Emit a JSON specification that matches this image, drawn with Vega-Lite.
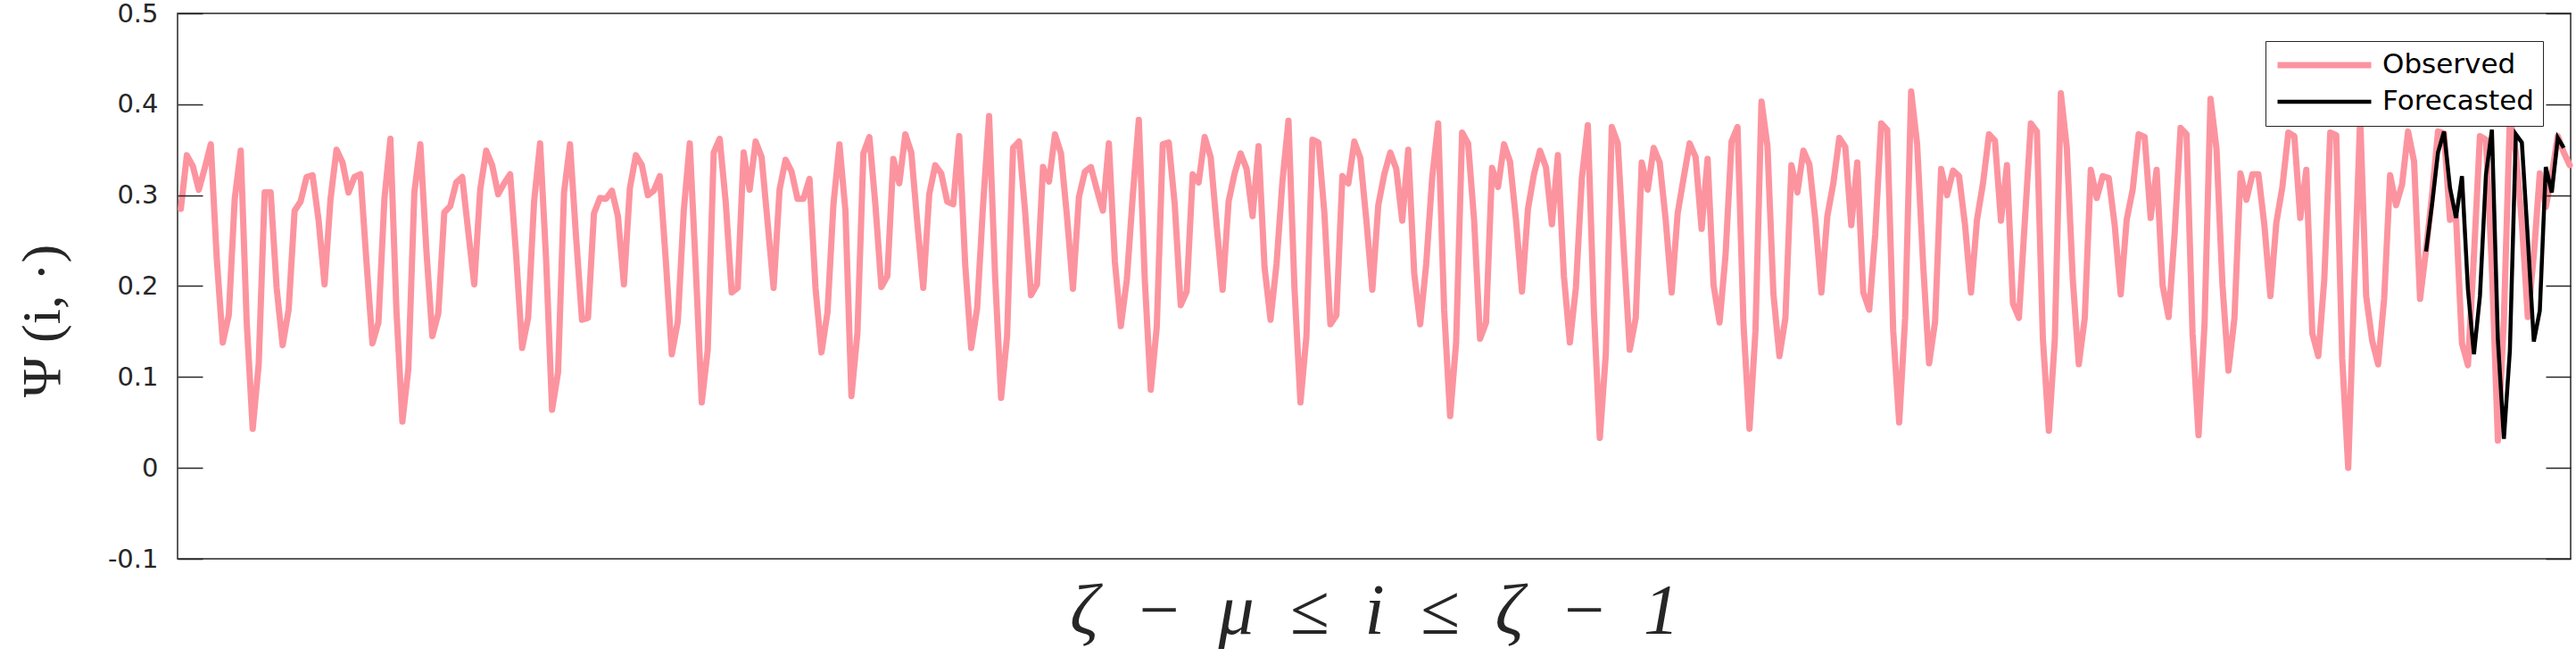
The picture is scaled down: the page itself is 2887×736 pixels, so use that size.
{
"$schema": "https://vega.github.io/schema/vega-lite/v6.json",
"width": 2682, "height": 611,
"autosize": {"type": "none"},
"padding": {"left": 199, "top": 15, "right": 6, "bottom": 110},
"background": "white",
"config": {"view": {"stroke": "#262626", "strokeWidth": 1.5}, "axis": {"domain": false, "grid": false}},
"datasets": {
"obs": [
{"i":0,"v":0.285,"s":"Observed"},{"i":1,"v":0.344,"s":"Observed"},{"i":2,"v":0.332,"s":"Observed"},{"i":3,"v":0.306,"s":"Observed"},{"i":4,"v":0.33,"s":"Observed"},{"i":5,"v":0.356,"s":"Observed"},{"i":6,"v":0.23,"s":"Observed"},{"i":7,"v":0.138,"s":"Observed"},{"i":8,"v":0.168,"s":"Observed"},{"i":9,"v":0.296,"s":"Observed"},
{"i":10,"v":0.349,"s":"Observed"},{"i":11,"v":0.16,"s":"Observed"},{"i":12,"v":0.043,"s":"Observed"},{"i":13,"v":0.114,"s":"Observed"},{"i":14,"v":0.303,"s":"Observed"},{"i":15,"v":0.303,"s":"Observed"},{"i":16,"v":0.198,"s":"Observed"},{"i":17,"v":0.135,"s":"Observed"},{"i":18,"v":0.174,"s":"Observed"},{"i":19,"v":0.283,"s":"Observed"},
{"i":20,"v":0.293,"s":"Observed"},{"i":21,"v":0.32,"s":"Observed"},{"i":22,"v":0.322,"s":"Observed"},{"i":23,"v":0.273,"s":"Observed"},{"i":24,"v":0.202,"s":"Observed"},{"i":25,"v":0.296,"s":"Observed"},{"i":26,"v":0.35,"s":"Observed"},{"i":27,"v":0.336,"s":"Observed"},{"i":28,"v":0.303,"s":"Observed"},{"i":29,"v":0.32,"s":"Observed"},
{"i":30,"v":0.323,"s":"Observed"},{"i":31,"v":0.227,"s":"Observed"},{"i":32,"v":0.137,"s":"Observed"},{"i":33,"v":0.16,"s":"Observed"},{"i":34,"v":0.296,"s":"Observed"},{"i":35,"v":0.362,"s":"Observed"},{"i":36,"v":0.174,"s":"Observed"},{"i":37,"v":0.051,"s":"Observed"},{"i":38,"v":0.109,"s":"Observed"},{"i":39,"v":0.303,"s":"Observed"},
{"i":40,"v":0.356,"s":"Observed"},{"i":41,"v":0.24,"s":"Observed"},{"i":42,"v":0.145,"s":"Observed"},{"i":43,"v":0.17,"s":"Observed"},{"i":44,"v":0.281,"s":"Observed"},{"i":45,"v":0.288,"s":"Observed"},{"i":46,"v":0.314,"s":"Observed"},{"i":47,"v":0.32,"s":"Observed"},{"i":48,"v":0.26,"s":"Observed"},{"i":49,"v":0.202,"s":"Observed"},
{"i":50,"v":0.306,"s":"Observed"},{"i":51,"v":0.349,"s":"Observed"},{"i":52,"v":0.333,"s":"Observed"},{"i":53,"v":0.301,"s":"Observed"},{"i":54,"v":0.313,"s":"Observed"},{"i":55,"v":0.323,"s":"Observed"},{"i":56,"v":0.234,"s":"Observed"},{"i":57,"v":0.132,"s":"Observed"},{"i":58,"v":0.165,"s":"Observed"},{"i":59,"v":0.293,"s":"Observed"},
{"i":60,"v":0.357,"s":"Observed"},{"i":61,"v":0.23,"s":"Observed"},{"i":62,"v":0.064,"s":"Observed"},{"i":63,"v":0.105,"s":"Observed"},{"i":64,"v":0.303,"s":"Observed"},{"i":65,"v":0.356,"s":"Observed"},{"i":66,"v":0.255,"s":"Observed"},{"i":67,"v":0.163,"s":"Observed"},{"i":68,"v":0.165,"s":"Observed"},{"i":69,"v":0.28,"s":"Observed"},
{"i":70,"v":0.297,"s":"Observed"},{"i":71,"v":0.296,"s":"Observed"},{"i":72,"v":0.305,"s":"Observed"},{"i":73,"v":0.277,"s":"Observed"},{"i":74,"v":0.202,"s":"Observed"},{"i":75,"v":0.308,"s":"Observed"},{"i":76,"v":0.344,"s":"Observed"},{"i":77,"v":0.333,"s":"Observed"},{"i":78,"v":0.30,"s":"Observed"},{"i":79,"v":0.305,"s":"Observed"},
{"i":80,"v":0.321,"s":"Observed"},{"i":81,"v":0.228,"s":"Observed"},{"i":82,"v":0.125,"s":"Observed"},{"i":83,"v":0.161,"s":"Observed"},{"i":84,"v":0.283,"s":"Observed"},{"i":85,"v":0.357,"s":"Observed"},{"i":86,"v":0.22,"s":"Observed"},{"i":87,"v":0.072,"s":"Observed"},{"i":88,"v":0.13,"s":"Observed"},{"i":89,"v":0.347,"s":"Observed"},
{"i":90,"v":0.362,"s":"Observed"},{"i":91,"v":0.293,"s":"Observed"},{"i":92,"v":0.193,"s":"Observed"},{"i":93,"v":0.198,"s":"Observed"},{"i":94,"v":0.347,"s":"Observed"},{"i":95,"v":0.306,"s":"Observed"},{"i":96,"v":0.359,"s":"Observed"},{"i":97,"v":0.342,"s":"Observed"},{"i":98,"v":0.27,"s":"Observed"},{"i":99,"v":0.198,"s":"Observed"},
{"i":100,"v":0.306,"s":"Observed"},{"i":101,"v":0.339,"s":"Observed"},{"i":102,"v":0.326,"s":"Observed"},{"i":103,"v":0.296,"s":"Observed"},{"i":104,"v":0.296,"s":"Observed"},{"i":105,"v":0.318,"s":"Observed"},{"i":106,"v":0.198,"s":"Observed"},{"i":107,"v":0.127,"s":"Observed"},{"i":108,"v":0.171,"s":"Observed"},{"i":109,"v":0.29,"s":"Observed"},
{"i":110,"v":0.356,"s":"Observed"},{"i":111,"v":0.283,"s":"Observed"},{"i":112,"v":0.079,"s":"Observed"},{"i":113,"v":0.148,"s":"Observed"},{"i":114,"v":0.346,"s":"Observed"},{"i":115,"v":0.364,"s":"Observed"},{"i":116,"v":0.29,"s":"Observed"},{"i":117,"v":0.199,"s":"Observed"},{"i":118,"v":0.211,"s":"Observed"},{"i":119,"v":0.34,"s":"Observed"},
{"i":120,"v":0.313,"s":"Observed"},{"i":121,"v":0.367,"s":"Observed"},{"i":122,"v":0.347,"s":"Observed"},{"i":123,"v":0.27,"s":"Observed"},{"i":124,"v":0.198,"s":"Observed"},{"i":125,"v":0.301,"s":"Observed"},{"i":126,"v":0.333,"s":"Observed"},{"i":127,"v":0.324,"s":"Observed"},{"i":128,"v":0.293,"s":"Observed"},{"i":129,"v":0.29,"s":"Observed"},
{"i":130,"v":0.365,"s":"Observed"},{"i":131,"v":0.224,"s":"Observed"},{"i":132,"v":0.132,"s":"Observed"},{"i":133,"v":0.176,"s":"Observed"},{"i":134,"v":0.29,"s":"Observed"},{"i":135,"v":0.387,"s":"Observed"},{"i":136,"v":0.211,"s":"Observed"},{"i":137,"v":0.077,"s":"Observed"},{"i":138,"v":0.145,"s":"Observed"},{"i":139,"v":0.352,"s":"Observed"},
{"i":140,"v":0.359,"s":"Observed"},{"i":141,"v":0.283,"s":"Observed"},{"i":142,"v":0.19,"s":"Observed"},{"i":143,"v":0.202,"s":"Observed"},{"i":144,"v":0.331,"s":"Observed"},{"i":145,"v":0.315,"s":"Observed"},{"i":146,"v":0.367,"s":"Observed"},{"i":147,"v":0.346,"s":"Observed"},{"i":148,"v":0.277,"s":"Observed"},{"i":149,"v":0.197,"s":"Observed"},
{"i":150,"v":0.298,"s":"Observed"},{"i":151,"v":0.326,"s":"Observed"},{"i":152,"v":0.331,"s":"Observed"},{"i":153,"v":0.306,"s":"Observed"},{"i":154,"v":0.283,"s":"Observed"},{"i":155,"v":0.357,"s":"Observed"},{"i":156,"v":0.227,"s":"Observed"},{"i":157,"v":0.156,"s":"Observed"},{"i":158,"v":0.207,"s":"Observed"},{"i":159,"v":0.3,"s":"Observed"},
{"i":160,"v":0.383,"s":"Observed"},{"i":161,"v":0.207,"s":"Observed"},{"i":162,"v":0.086,"s":"Observed"},{"i":163,"v":0.155,"s":"Observed"},{"i":164,"v":0.356,"s":"Observed"},{"i":165,"v":0.358,"s":"Observed"},{"i":166,"v":0.29,"s":"Observed"},{"i":167,"v":0.179,"s":"Observed"},{"i":168,"v":0.194,"s":"Observed"},{"i":169,"v":0.323,"s":"Observed"},
{"i":170,"v":0.314,"s":"Observed"},{"i":171,"v":0.364,"s":"Observed"},{"i":172,"v":0.342,"s":"Observed"},{"i":173,"v":0.267,"s":"Observed"},{"i":174,"v":0.196,"s":"Observed"},{"i":175,"v":0.293,"s":"Observed"},{"i":176,"v":0.324,"s":"Observed"},{"i":177,"v":0.346,"s":"Observed"},{"i":178,"v":0.329,"s":"Observed"},{"i":179,"v":0.277,"s":"Observed"},
{"i":180,"v":0.354,"s":"Observed"},{"i":181,"v":0.221,"s":"Observed"},{"i":182,"v":0.163,"s":"Observed"},{"i":183,"v":0.224,"s":"Observed"},{"i":184,"v":0.316,"s":"Observed"},{"i":185,"v":0.382,"s":"Observed"},{"i":186,"v":0.198,"s":"Observed"},{"i":187,"v":0.072,"s":"Observed"},{"i":188,"v":0.145,"s":"Observed"},{"i":189,"v":0.361,"s":"Observed"},
{"i":190,"v":0.358,"s":"Observed"},{"i":191,"v":0.28,"s":"Observed"},{"i":192,"v":0.158,"s":"Observed"},{"i":193,"v":0.168,"s":"Observed"},{"i":194,"v":0.321,"s":"Observed"},{"i":195,"v":0.313,"s":"Observed"},{"i":196,"v":0.359,"s":"Observed"},{"i":197,"v":0.341,"s":"Observed"},{"i":198,"v":0.273,"s":"Observed"},{"i":199,"v":0.196,"s":"Observed"},
{"i":200,"v":0.289,"s":"Observed"},{"i":201,"v":0.323,"s":"Observed"},{"i":202,"v":0.347,"s":"Observed"},{"i":203,"v":0.329,"s":"Observed"},{"i":204,"v":0.272,"s":"Observed"},{"i":205,"v":0.35,"s":"Observed"},{"i":206,"v":0.214,"s":"Observed"},{"i":207,"v":0.158,"s":"Observed"},{"i":208,"v":0.224,"s":"Observed"},{"i":209,"v":0.319,"s":"Observed"},
{"i":210,"v":0.379,"s":"Observed"},{"i":211,"v":0.174,"s":"Observed"},{"i":212,"v":0.057,"s":"Observed"},{"i":213,"v":0.138,"s":"Observed"},{"i":214,"v":0.369,"s":"Observed"},{"i":215,"v":0.357,"s":"Observed"},{"i":216,"v":0.273,"s":"Observed"},{"i":217,"v":0.142,"s":"Observed"},{"i":218,"v":0.16,"s":"Observed"},{"i":219,"v":0.33,"s":"Observed"},
{"i":220,"v":0.309,"s":"Observed"},{"i":221,"v":0.356,"s":"Observed"},{"i":222,"v":0.337,"s":"Observed"},{"i":223,"v":0.273,"s":"Observed"},{"i":224,"v":0.194,"s":"Observed"},{"i":225,"v":0.285,"s":"Observed"},{"i":226,"v":0.323,"s":"Observed"},{"i":227,"v":0.349,"s":"Observed"},{"i":228,"v":0.331,"s":"Observed"},{"i":229,"v":0.268,"s":"Observed"},
{"i":230,"v":0.344,"s":"Observed"},{"i":231,"v":0.211,"s":"Observed"},{"i":232,"v":0.138,"s":"Observed"},{"i":233,"v":0.198,"s":"Observed"},{"i":234,"v":0.319,"s":"Observed"},{"i":235,"v":0.377,"s":"Observed"},{"i":236,"v":0.174,"s":"Observed"},{"i":237,"v":0.033,"s":"Observed"},{"i":238,"v":0.125,"s":"Observed"},{"i":239,"v":0.375,"s":"Observed"},
{"i":240,"v":0.357,"s":"Observed"},{"i":241,"v":0.24,"s":"Observed"},{"i":242,"v":0.13,"s":"Observed"},{"i":243,"v":0.165,"s":"Observed"},{"i":244,"v":0.336,"s":"Observed"},{"i":245,"v":0.306,"s":"Observed"},{"i":246,"v":0.352,"s":"Observed"},{"i":247,"v":0.336,"s":"Observed"},{"i":248,"v":0.273,"s":"Observed"},{"i":249,"v":0.193,"s":"Observed"},
{"i":250,"v":0.28,"s":"Observed"},{"i":251,"v":0.319,"s":"Observed"},{"i":252,"v":0.357,"s":"Observed"},{"i":253,"v":0.342,"s":"Observed"},{"i":254,"v":0.263,"s":"Observed"},{"i":255,"v":0.34,"s":"Observed"},{"i":256,"v":0.201,"s":"Observed"},{"i":257,"v":0.16,"s":"Observed"},{"i":258,"v":0.234,"s":"Observed"},{"i":259,"v":0.359,"s":"Observed"},
{"i":260,"v":0.375,"s":"Observed"},{"i":261,"v":0.158,"s":"Observed"},{"i":262,"v":0.043,"s":"Observed"},{"i":263,"v":0.151,"s":"Observed"},{"i":264,"v":0.403,"s":"Observed"},{"i":265,"v":0.354,"s":"Observed"},{"i":266,"v":0.191,"s":"Observed"},{"i":267,"v":0.123,"s":"Observed"},{"i":268,"v":0.165,"s":"Observed"},{"i":269,"v":0.333,"s":"Observed"},
{"i":270,"v":0.303,"s":"Observed"},{"i":271,"v":0.349,"s":"Observed"},{"i":272,"v":0.334,"s":"Observed"},{"i":273,"v":0.273,"s":"Observed"},{"i":274,"v":0.193,"s":"Observed"},{"i":275,"v":0.277,"s":"Observed"},{"i":276,"v":0.313,"s":"Observed"},{"i":277,"v":0.363,"s":"Observed"},{"i":278,"v":0.353,"s":"Observed"},{"i":279,"v":0.267,"s":"Observed"},
{"i":280,"v":0.336,"s":"Observed"},{"i":281,"v":0.193,"s":"Observed"},{"i":282,"v":0.174,"s":"Observed"},{"i":283,"v":0.257,"s":"Observed"},{"i":284,"v":0.379,"s":"Observed"},{"i":285,"v":0.372,"s":"Observed"},{"i":286,"v":0.151,"s":"Observed"},{"i":287,"v":0.05,"s":"Observed"},{"i":288,"v":0.165,"s":"Observed"},{"i":289,"v":0.414,"s":"Observed"},
{"i":290,"v":0.356,"s":"Observed"},{"i":291,"v":0.224,"s":"Observed"},{"i":292,"v":0.115,"s":"Observed"},{"i":293,"v":0.161,"s":"Observed"},{"i":294,"v":0.329,"s":"Observed"},{"i":295,"v":0.3,"s":"Observed"},{"i":296,"v":0.327,"s":"Observed"},{"i":297,"v":0.321,"s":"Observed"},{"i":298,"v":0.267,"s":"Observed"},{"i":299,"v":0.193,"s":"Observed"},
{"i":300,"v":0.273,"s":"Observed"},{"i":301,"v":0.313,"s":"Observed"},{"i":302,"v":0.367,"s":"Observed"},{"i":303,"v":0.36,"s":"Observed"},{"i":304,"v":0.272,"s":"Observed"},{"i":305,"v":0.333,"s":"Observed"},{"i":306,"v":0.181,"s":"Observed"},{"i":307,"v":0.165,"s":"Observed"},{"i":308,"v":0.273,"s":"Observed"},{"i":309,"v":0.379,"s":"Observed"},
{"i":310,"v":0.37,"s":"Observed"},{"i":311,"v":0.142,"s":"Observed"},{"i":312,"v":0.041,"s":"Observed"},{"i":313,"v":0.142,"s":"Observed"},{"i":314,"v":0.412,"s":"Observed"},{"i":315,"v":0.352,"s":"Observed"},{"i":316,"v":0.207,"s":"Observed"},{"i":317,"v":0.114,"s":"Observed"},{"i":318,"v":0.165,"s":"Observed"},{"i":319,"v":0.328,"s":"Observed"},
{"i":320,"v":0.297,"s":"Observed"},{"i":321,"v":0.321,"s":"Observed"},{"i":322,"v":0.319,"s":"Observed"},{"i":323,"v":0.267,"s":"Observed"},{"i":324,"v":0.191,"s":"Observed"},{"i":325,"v":0.273,"s":"Observed"},{"i":326,"v":0.306,"s":"Observed"},{"i":327,"v":0.367,"s":"Observed"},{"i":328,"v":0.364,"s":"Observed"},{"i":329,"v":0.275,"s":"Observed"},
{"i":330,"v":0.328,"s":"Observed"},{"i":331,"v":0.201,"s":"Observed"},{"i":332,"v":0.166,"s":"Observed"},{"i":333,"v":0.257,"s":"Observed"},{"i":334,"v":0.374,"s":"Observed"},{"i":335,"v":0.367,"s":"Observed"},{"i":336,"v":0.148,"s":"Observed"},{"i":337,"v":0.036,"s":"Observed"},{"i":338,"v":0.158,"s":"Observed"},{"i":339,"v":0.406,"s":"Observed"},
{"i":340,"v":0.351,"s":"Observed"},{"i":341,"v":0.201,"s":"Observed"},{"i":342,"v":0.107,"s":"Observed"},{"i":343,"v":0.165,"s":"Observed"},{"i":344,"v":0.324,"s":"Observed"},{"i":345,"v":0.295,"s":"Observed"},{"i":346,"v":0.323,"s":"Observed"},{"i":347,"v":0.323,"s":"Observed"},{"i":348,"v":0.267,"s":"Observed"},{"i":349,"v":0.189,"s":"Observed"},
{"i":350,"v":0.27,"s":"Observed"},{"i":351,"v":0.309,"s":"Observed"},{"i":352,"v":0.369,"s":"Observed"},{"i":353,"v":0.365,"s":"Observed"},{"i":354,"v":0.275,"s":"Observed"},{"i":355,"v":0.328,"s":"Observed"},{"i":356,"v":0.148,"s":"Observed"},{"i":357,"v":0.123,"s":"Observed"},{"i":358,"v":0.207,"s":"Observed"},{"i":359,"v":0.369,"s":"Observed"},
{"i":360,"v":0.366,"s":"Observed"},{"i":361,"v":0.12,"s":"Observed"},{"i":362,"v":0.0,"s":"Observed"},{"i":363,"v":0.2,"s":"Observed"},{"i":364,"v":0.385,"s":"Observed"},{"i":365,"v":0.189,"s":"Observed"},{"i":366,"v":0.14,"s":"Observed"},{"i":367,"v":0.114,"s":"Observed"},{"i":368,"v":0.186,"s":"Observed"},{"i":369,"v":0.322,"s":"Observed"},
{"i":370,"v":0.289,"s":"Observed"},{"i":371,"v":0.312,"s":"Observed"},{"i":372,"v":0.37,"s":"Observed"},{"i":373,"v":0.337,"s":"Observed"},{"i":374,"v":0.186,"s":"Observed"},{"i":375,"v":0.24,"s":"Observed"},{"i":376,"v":0.3,"s":"Observed"},{"i":377,"v":0.37,"s":"Observed"},{"i":378,"v":0.368,"s":"Observed"},{"i":379,"v":0.273,"s":"Observed"},
{"i":380,"v":0.277,"s":"Observed"},{"i":381,"v":0.137,"s":"Observed"},{"i":382,"v":0.113,"s":"Observed"},{"i":383,"v":0.234,"s":"Observed"},{"i":384,"v":0.365,"s":"Observed"},{"i":385,"v":0.361,"s":"Observed"},{"i":386,"v":0.22,"s":"Observed"},{"i":387,"v":0.03,"s":"Observed"},{"i":388,"v":0.164,"s":"Observed"},{"i":389,"v":0.385,"s":"Observed"},
{"i":390,"v":0.347,"s":"Observed"},{"i":391,"v":0.27,"s":"Observed"},{"i":392,"v":0.166,"s":"Observed"},{"i":393,"v":0.234,"s":"Observed"},{"i":394,"v":0.324,"s":"Observed"},{"i":395,"v":0.287,"s":"Observed"},{"i":396,"v":0.322,"s":"Observed"},{"i":397,"v":0.365,"s":"Observed"},{"i":398,"v":0.347,"s":"Observed"},{"i":399,"v":0.333,"s":"Observed"}
],
"fc": [
{"i":375,"v":0.238,"s":"Forecasted"},{"i":376,"v":0.29,"s":"Forecasted"},{"i":377,"v":0.347,"s":"Forecasted"},{"i":378,"v":0.37,"s":"Forecasted"},{"i":379,"v":0.308,"s":"Forecasted"},{"i":380,"v":0.275,"s":"Forecasted"},{"i":381,"v":0.321,"s":"Forecasted"},{"i":382,"v":0.196,"s":"Forecasted"},{"i":383,"v":0.125,"s":"Forecasted"},{"i":384,"v":0.189,"s":"Forecasted"},
{"i":385,"v":0.322,"s":"Forecasted"},{"i":386,"v":0.372,"s":"Forecasted"},{"i":387,"v":0.141,"s":"Forecasted"},{"i":388,"v":0.032,"s":"Forecasted"},{"i":389,"v":0.129,"s":"Forecasted"},{"i":390,"v":0.367,"s":"Forecasted"},{"i":391,"v":0.358,"s":"Forecasted"},{"i":392,"v":0.252,"s":"Forecasted"},{"i":393,"v":0.139,"s":"Forecasted"},{"i":394,"v":0.173,"s":"Forecasted"},
{"i":395,"v":0.331,"s":"Forecasted"},{"i":396,"v":0.303,"s":"Forecasted"},{"i":397,"v":0.363,"s":"Forecasted"},{"i":398,"v":0.352,"s":"Forecasted"}
]
},
"layer": [
{
"data": {"name": "obs"},
"mark": {"type": "line", "strokeJoin": "round", "strokeCap": "round"},
"encoding": {
"x": {"field": "i", "type": "quantitative", "scale": {"domain": [-0.55, 399.15], "nice": false, "zero": false},
  "axis": {"orient": "bottom", "ticks": false, "labels": false, "domain": false, "title": "ζ\u2002−\u2002μ\u2002≤\u2002i\u2002≤\u2002ζ\u2002−\u20021", "titleFont": "Liberation Serif", "titleFontStyle": "italic", "titleFontSize": 80, "titleFontWeight": "normal", "titleColor": "#262626", "titleBaseline": "alphabetic", "titleX": 1341, "titleY": 83, "titleAlign": "center", "titleLimit": 2000}},
"y": {"field": "v", "type": "quantitative", "scale": {"domain": [-0.1, 0.5], "nice": false, "zero": false},
  "axis": {"orient": "left", "offset": -28, "zindex": 2, "values": [-0.1, 0, 0.1, 0.2, 0.3, 0.4, 0.5], "ticks": true, "tickSize": 28, "tickColor": "#262626", "tickWidth": 1.5, "labelFont": "DejaVu Sans", "labelFontSize": 29, "labelColor": "#262626", "labelPadding": 22, "labelExpr": "datum.value < 0 ? '-' + format(-datum.value, '~g') : format(datum.value, '~g')",
   "title": "Ψ (i, ·)", "titleFont": "Liberation Serif", "titleFontSize": 62, "titleFontWeight": "normal", "titleColor": "#262626", "titleX": -180, "titleY": 344, "titleBaseline": "middle", "titleAlign": "center"}},
"color": {"field": "s", "type": "ordinal", "scale": {"domain": ["Observed", "Forecasted"], "range": ["#fc949f", "#000000"]},
  "legend": {"orient": "none", "legendX": 2340, "legendY": 31, "title": null, "symbolType": "stroke", "symbolSize": 11025, "labelFont": "DejaVu Sans", "labelFontSize": 31, "labelColor": "#000000", "labelLimit": 600, "strokeColor": "#262626", "fillColor": "white", "padding": 10, "rowPadding": 7, "clipHeight": 34, "labelOffset": 9}},
"strokeWidth": {"field": "s", "type": "ordinal", "scale": {"domain": ["Observed", "Forecasted"], "range": [7, 4.5]},
  "legend": {"orient": "none", "legendX": 2340, "legendY": 31, "title": null, "symbolType": "stroke", "symbolSize": 11025, "labelFont": "DejaVu Sans", "labelFontSize": 31, "labelColor": "#000000", "labelLimit": 600, "strokeColor": "#262626", "fillColor": "white", "padding": 10, "rowPadding": 7, "clipHeight": 34, "labelOffset": 9}}
}
},
{
"data": {"name": "fc"},
"mark": {"type": "line", "strokeJoin": "miter"},
"encoding": {
"x": {"field": "i", "type": "quantitative"},
"y": {"field": "v", "type": "quantitative", "axis": null},
"color": {"field": "s", "type": "ordinal"},
"strokeWidth": {"field": "s", "type": "ordinal"}
}
},
{
"data": {"name": "obs"},
"mark": {"type": "line", "strokeOpacity": 0},
"encoding": {
"x": {"field": "i", "type": "quantitative"},
"y": {"field": "v", "type": "quantitative", "axis": {"orient": "right", "offset": -28, "zindex": 2, "values": [-0.1, 0, 0.1, 0.2, 0.3, 0.4, 0.5], "ticks": true, "tickSize": 28, "tickColor": "#262626", "tickWidth": 1.5, "labels": false, "title": null}}
}
}
],
"resolve": {"axis": {"y": "independent"}}
}
